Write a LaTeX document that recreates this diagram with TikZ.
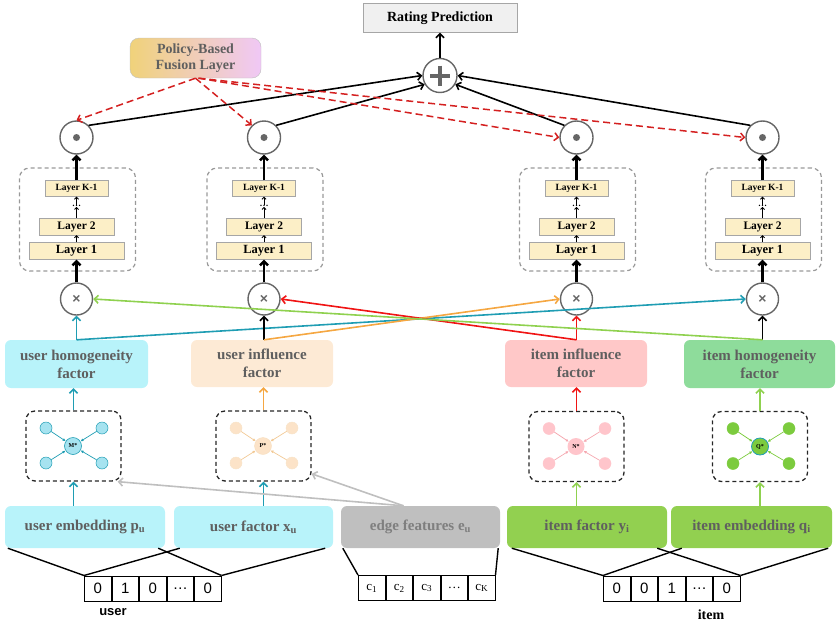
\documentclass[tikz,border=0pt]{standalone}
\usepackage{fontspec}
\setmainfont{Liberation Serif}
\newfontfamily\arialf{Liberation Sans}
\usetikzlibrary{arrows.meta,calc}
\newcommand\myfs[2]{\fontsize{#1}{#2}\selectfont}
\definecolor{cyanL}{HTML}{B8F3FA}
\definecolor{peach}{HTML}{FDEAD5}
\definecolor{pinkL}{HTML}{FFC8C8}
\definecolor{greenM}{HTML}{8EDC9B}
\definecolor{greenB}{HTML}{92D050}
\definecolor{edgeG}{HTML}{BFBFBF}
\definecolor{txtG}{HTML}{5F5F5F}
\definecolor{edgeT}{HTML}{7F7F7F}
\definecolor{layerY}{HTML}{FCEFC7}
\definecolor{tealC}{HTML}{1F9DB3}
\definecolor{orangeC}{HTML}{F5A742}
\definecolor{redC}{HTML}{F01414}
\definecolor{greenC}{HTML}{8FD14F}
\definecolor{dashRed}{HTML}{D42020}
\definecolor{fusY}{HTML}{F0D27A}
\definecolor{fusP}{HTML}{F0C8F6}
\definecolor{circG}{HTML}{666666}
\definecolor{g1f}{HTML}{A6E3F0}
\definecolor{g2f}{HTML}{FCE3C8}
\definecolor{g2a}{HTML}{F2C995}
\definecolor{g3f}{HTML}{FFC5CB}
\definecolor{g3a}{HTML}{F5A8B0}
\definecolor{g4f}{HTML}{7CCB3E}
\begin{document}
\begin{tikzpicture}[x=1pt,y=-1pt,
  barb/.tip={Straight Barb[length=4pt,width=8pt]},
  smallbarb/.tip={Straight Barb[length=2pt,width=4pt]},
  arr/.style={-barb, line width=1.6pt},
  thickarr/.style={-barb, line width=2.4pt},
  tinyarr/.style={-smallbarb, line width=0.8pt},
  opc/.style={circle, draw=circG, line width=1.4pt, fill=white, inner sep=0pt},
  rpbox/.style={draw=gray!70, fill=gray!12, minimum width=154pt, minimum height=29pt, inner sep=0pt, font=\bfseries\myfs{14}{16}},
  fusion/.style={draw=gray!50, rounded corners=9pt, left color=fusY, right color=fusP, minimum width=131pt, minimum height=40pt, inner sep=0pt, align=center, text=txtG, font=\bfseries\myfs{14}{16}},
  tower/.style={draw=gray!80, line width=1.2pt, dash pattern=on 4pt off 3pt, rounded corners=10pt, minimum width=116pt, minimum height=103pt, inner sep=0pt},
  layer/.style={draw=gray!70, fill=layerY, inner sep=0pt},
  factor/.style={rounded corners=6pt, inner sep=0pt, align=center, text=txtG, font=\bfseries\myfs{15}{18}},
  gbox/.style={draw=black!85, line width=1.3pt, dash pattern=on 4pt off 3pt, rounded corners=9pt, minimum width=95pt, minimum height=70pt, inner sep=0pt},
  cnode/.style={circle, minimum size=17pt, inner sep=0pt, font=\bfseries\myfs{6}{6}},
  sat/.style={circle, minimum size=12pt, inner sep=0pt},
  bbox/.style={rounded corners=6pt, minimum height=42pt, inner sep=0pt, font=\bfseries\myfs{15}{18}, text=txtG},
  cell/.style={draw, line width=1pt, minimum width=26.5pt, minimum height=25pt, inner sep=0pt, anchor=west},
  fan/.style={line width=1.4pt},
  reddash/.style={-barb, draw=dashRed, line width=1.5pt, dash pattern=on 7pt off 4pt},
  grayarr/.style={-barb, draw=edgeG, line width=1.6pt}
]
\useasboundingbox (0,0) rectangle (837,624);

% top
\node[rpbox] (rp) at (440,18) {Rating Prediction};
\node[opc, minimum size=34pt] (plus) at (440,75.5) {};
\draw[circG, line width=4pt] ($(plus)+(-10,0)$) -- ($(plus)+(10,0)$) ($(plus)+(0,-10)$) -- ($(plus)+(0,10)$);
\draw[arr] (plus.north) -- (rp.south);
\node[fusion] (fus) at (195.5,58) {Policy-Based\\Fusion Layer};

% towers
\foreach \i/\x in {1/76.5,2/264,3/576.5,4/762.5}{
  \node[opc, minimum size=33pt] (d\i) at (\x,137.5) {};
  \fill[circG] (d\i) circle (3.5pt);
  \node[tower] (t\i) at (\x+1,219.5) {};
  \node[layer, minimum width=63pt, minimum height=16pt, font=\bfseries\myfs{9.5}{10}] (k\i) at (\x,188.5) {Layer K-1};
  \node[inner sep=0pt, font=\myfs{9}{9}] (e\i) at (\x,206) {\textbf{…}};
  \node[layer, minimum width=75pt, minimum height=17pt, font=\bfseries\myfs{11.5}{12}] (b\i) at (\x,226.5) {Layer 2};
  \node[layer, minimum width=95pt, minimum height=17pt, font=\bfseries\myfs{12.5}{13}] (a\i) at (\x,251) {Layer 1};
  \node[opc, minimum size=32pt, font=\arialf\bfseries\myfs{14}{14}, text=circG] (m\i) at (\x,299) {×};
  \draw[tinyarr] (a\i.north) -- (b\i.south);
  \draw[tinyarr] (b\i.north) -- (e\i.south);
  \draw[tinyarr] (e\i.north) -- (k\i.south);
  \draw[thickarr] (m\i.north) -- (a\i.south);
  \draw[thickarr] (k\i.north) -- (d\i.south);
}

% to plus
\draw[arr] (d1.north east) -- (plus.west);
\draw[arr] (d2.north east) -- (plus.210);
\draw[arr] (d3.north west) -- (plus.330);
\draw[arr] (d4.north west) -- (plus.east);

% policy dashed arrows
\draw[reddash] (fus.south) -- (d1.north);
\draw[reddash] (fus.south) -- (d2.north west);
\draw[reddash] ($(fus.south)+(3,0)$) -- (d3.west);
\draw[reddash] ($(fus.south)+(3,0)$) -- (d4.west);

% factor boxes
\node[factor, fill=cyanL, minimum width=143pt, minimum height=48pt] (uh) at (76.5,364) {user homogeneity\\factor};
\node[factor, fill=peach, minimum width=142pt, minimum height=47pt] (ui) at (262,363.5) {user influence\\factor};
\node[factor, fill=pinkL, minimum width=142pt, minimum height=47pt] (ii) at (576,363.5) {item influence\\factor};
\node[factor, fill=greenM, minimum width=151pt, minimum height=48pt] (ih) at (759.5,364) {item homogeneity\\factor};

% factor -> multiply
\draw[arr, tealC] (m1 |- uh.north) -- (m1.south);
\draw[arr, tealC] (m1 |- uh.north) -- (m4.west);
\draw[arr, black] (m2 |- ui.north) -- (m2.south);
\draw[arr, orangeC] (m2 |- ui.north) -- (m3.west);
\draw[arr, redC] (m3 |- ii.north) -- (m3.south);
\draw[arr, redC] (m3 |- ii.north) -- (m2.east);
\draw[arr, black] (m4 |- ih.north) -- (m4.south);
\draw[arr, greenC] (m4 |- ih.north) -- (m1.east);

% graph boxes
\node[gbox] (g1) at (73.5,446) {};
\node[gbox] (g2) at (263.5,446) {};
\node[gbox] (g3) at (576.5,446.5) {};
\node[gbox] (g4) at (760,446.5) {};

\node[cnode, fill=g1f, draw=tealC, line width=0.6pt] (c1) at (73,446) {M*};
\node[cnode, fill=g2f, draw=g2a!60, line width=0.4pt] (c2) at (263,446) {P*};
\node[cnode, fill=g3f] (c3) at (576,446.5) {N*};
\node[cnode, fill=g4f, draw=tealC, line width=0.8pt] (c4) at (760,446.5) {Q*};
\foreach \i/\f/\d/\a in {1/g1f/tealC/tealC, 2/g2f/g2a!50/g2a, 3/g3f/g3f/g3a, 4/g4f/g4f/g4f}{
  \node[sat, fill=\f, draw=\d, line width=0.5pt] (s\i a) at ($(c\i)+(-27,-18)$) {};
  \node[sat, fill=\f, draw=\d, line width=0.5pt] (s\i b) at ($(c\i)+(29,-18)$) {};
  \node[sat, fill=\f, draw=\d, line width=0.5pt] (s\i c) at ($(c\i)+(-27,17)$) {};
  \node[sat, fill=\f, draw=\d, line width=0.5pt] (s\i d) at ($(c\i)+(29,17)$) {};
  \foreach \s in {a,b,c,d}{
    \draw[-{Latex[length=3pt,width=3pt]}, draw=\a, line width=0.7pt] (s\i\s) -- (c\i);
  }
}

% graph -> factor
\draw[arr, tealC] (g1.north) -- (g1.north |- uh.south);
\draw[arr, orangeC] (g2.north) -- (g2.north |- ui.south);
\draw[arr, redC] (g3.north) -- (g3.north |- ii.south);
\draw[arr, greenC] (g4.north) -- (g4.north |- ih.south);

% bottom boxes
\node[bbox, fill=cyanL, minimum width=160pt] (ue) at (85,527) {user embedding p\textsubscript{u}};
\node[bbox, fill=cyanL, minimum width=159pt] (uf) at (253.5,527) {user factor x\textsubscript{u}};
\node[bbox, fill=edgeG, minimum width=159pt, text=edgeT] (ef) at (420.5,527) {edge features e\textsubscript{u}};
\node[bbox, fill=greenB, minimum width=160pt] (itf) at (587,527) {item factor y\textsubscript{i}};
\node[bbox, fill=greenB, minimum width=161pt] (ie) at (751.5,527) {item embedding q\textsubscript{i}};

% bottom -> graph
\draw[arr, tealC] (g1.south |- ue.north) -- (g1.south);
\draw[arr, tealC] (g2.south |- uf.north) -- (g2.south);
\draw[arr, greenC] (g3.south |- itf.north) -- (g3.south);
\draw[arr, greenC] (g4.south |- ie.north) -- (g4.south);
\coordinate (efs) at ($(ef.north)+(-17,0)$);
\draw[grayarr] (efs) -- ($(g1.south east)+(-4,0)$);
\draw[grayarr] (efs) -- (g2.-30);

% vectors
\node[cell, font=\arialf\myfs{15}{15}] (u1) at (84,588.5) {0};
\node[cell, font=\arialf\myfs{15}{15}] (u2) at (u1.east) {1};
\node[cell, font=\arialf\myfs{15}{15}] (u3) at (u2.east) {0};
\node[cell, font=\arialf\myfs{15}{15}] (u4) at (u3.east) {…};
\node[cell, font=\arialf\myfs{15}{15}] (u5) at (u4.east) {0};

\node[cell, font=\myfs{13}{13}] (v1) at (358,588) {c\textsubscript{1}};
\node[cell, font=\myfs{13}{13}] (v2) at (v1.east) {c\textsubscript{2}};
\node[cell, font=\myfs{13}{13}] (v3) at (v2.east) {c\textsubscript{3}};
\node[cell, font=\myfs{13}{13}] (v4) at (v3.east) {…};
\node[cell, font=\myfs{13}{13}] (v5) at (v4.east) {c\textsubscript{K}};

\node[cell, font=\arialf\myfs{15}{15}] (w1) at (603,588.5) {0};
\node[cell, font=\arialf\myfs{15}{15}] (w2) at (w1.east) {0};
\node[cell, font=\arialf\myfs{15}{15}] (w3) at (w2.east) {1};
\node[cell, font=\arialf\myfs{15}{15}] (w4) at (w3.east) {…};
\node[cell, font=\arialf\myfs{15}{15}] (w5) at (w4.east) {0};

\node[font=\arialf\bfseries\myfs{13}{13}] (ul) at (113,612) {user};
\node[font=\bfseries\myfs{14}{14}] (il) at (711,615) {item};

% fan lines
\draw[fan] (u1.north west) -- ($(ue.south west)+(3,0)$);
\draw[fan] (u1.north west) -- ($(uf.south west)+(6,0)$);
\draw[fan] (u5.north east) -- ($(ue.south east)+(-7,0)$);
\draw[fan] (u5.north east) -- ($(uf.south east)+(-8,0)$);
\draw[fan] (v1.north west) -- ($(ef.south west)+(2,0)$);
\draw[fan] (v5.north east) -- ($(ef.south east)+(-2,0)$);
\draw[fan] (w1.north west) -- ($(itf.south west)+(5,0)$);
\draw[fan] (w1.north west) -- ($(ie.south west)+(11,0)$);
\draw[fan] (w5.north east) -- ($(itf.south east)+(-10,0)$);
\draw[fan] (w5.north east) -- ($(ie.south east)+(-4,0)$);
\end{tikzpicture}
\end{document}
